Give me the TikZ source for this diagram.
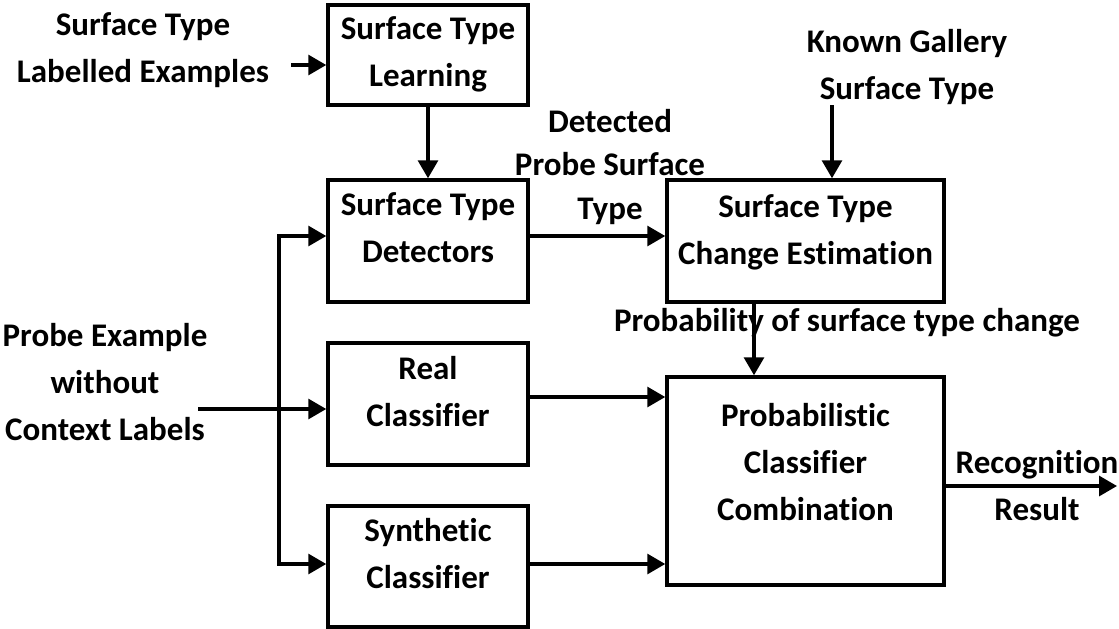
\documentclass[tikz,border=0pt]{standalone}
\usepackage{fontspec}
\setmainfont{Carlito}[Ligatures=NoCommon]
\usetikzlibrary{arrows.meta,positioning}

\begin{document}
\begin{tikzpicture}[x=0.5pt, y=-0.5pt,
      font=\fontsize{16.5}{23.5}\selectfont\bfseries,
      blk/.style={draw, line width=1.75pt, minimum width=100pt,
                  minimum height=61pt, align=center, text depth=13pt},
      lbl/.style={align=center, inner sep=0pt},
      arr/.style={-{Triangle[length=9pt,width=10pt]}, line width=1.6pt}
  ]
    \useasboundingbox (0,0) rectangle (1119,628);
    \node[blk, minimum height=50pt, text depth=3pt] (learn) at (428,55) {Surface Type\\Learning};
    \node[blk] (det)  at (428,241)   {Surface Type\\Detectors};
    \node[blk] (real) at (428,404)   {Real\\Classifier};
    \node[blk, minimum height=60.5pt] (syn) at (428,566.5) {Synthetic\\Classifier};
    \node[blk, minimum width=138.5pt, text depth=11pt] (chg) at (805.5,241) {Surface Type\\Change Estimation};
    \node[blk, minimum width=138.5pt, minimum height=104pt, text depth=19pt] (comb) at (805.5,481)
         {Probabilistic\\Classifier\\Combination};
    \node[lbl] (lblex)   at (143,50)  {Surface Type\\Labelled Examples};
    \node[lbl] (probe)   at (105,382) {Probe Example\\without\\Context Labels};
    \node[lbl, font=\fontsize{16.5}{21.75}\selectfont\bfseries] (detected) at (610,167) {Detected\\Probe Surface\\Type};
    \node[lbl] (gallery) at (907,67)  {Known Gallery\\Surface Type};
    \node[lbl] (probch)  at (847,323) {Probability of surface type change};
    \node[lbl] (recog)   at (1037,486) {Recognition\\Result};
    \coordinate (lbl-out) at (291,65);
    \coordinate (gal-out) at (832,105);
    \coordinate (in) at (198,409);
    \coordinate (split) at (279,409);
    \coordinate (out) at (1117,486);
    \draw[arr] (lbl-out) -- (lbl-out -| learn.west);
    \draw[arr] (learn) -- (det);
    \draw[arr] (gal-out) -- (gal-out |- chg.north);
    \draw[arr] ([yshift=2.5pt]det.east) -- ([yshift=2.5pt]det.east -| chg.west);
    \draw[arr] ([xshift=-25.75pt]chg.south) -- ([xshift=-25.75pt]chg.south |- comb.north);
    \draw[arr] ([yshift=3.5pt]real.east) -- ([yshift=3.5pt]real.east -| comb.west);
    \draw[arr] ([yshift=1.25pt]syn.east) -- ([yshift=1.25pt]syn.east -| comb.west);
    \draw[arr] ([yshift=-2.5pt]comb.east) -- (out);
    \draw[arr] (in) -- (in -| real.west);
    \draw[arr] (split) |- ([yshift=2.5pt]det.west);
    \draw[arr] (split) |- ([yshift=1.25pt]syn.west);
  \end{tikzpicture}
\end{document}
